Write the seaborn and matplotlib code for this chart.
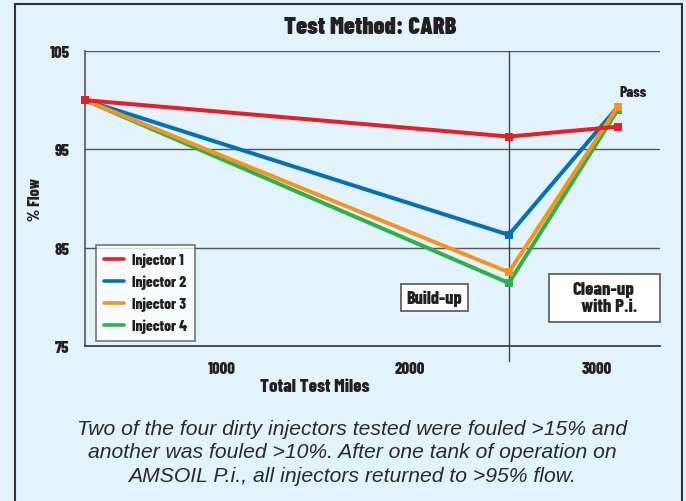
import pandas as pd
import matplotlib.pyplot as plt
import seaborn as sns
from matplotlib.patches import Rectangle

# data
miles = [270, 2530, 3110]
injector_1 = [100.0, 96.3, 97.3]
injector_2 = [100.0, 86.3, 99.3]
injector_3 = [100.0, 82.5, 99.3]
injector_4 = [100.0, 81.4, 99.0]
labels = ["Injector 1", "Injector 2", "Injector 3", "Injector 4"]
colors = ["#ED1C24", "#0072BC", "#F7941D", "#2BB24C"]
y_ticks = [75, 85, 95, 105]
x_ticks = [1000, 2000, 3000]
phase_split = 2530

BG = "#E2F3FB"
INK = "#231F20"
COND = ["Barlow Condensed", "DejaVu Sans"]
heavy = dict(family=COND, fontweight=800, color=INK)

sns.set_style("white")
plt.rcParams["font.family"] = COND

series = [injector_1, injector_2, injector_3, injector_4]
df = pd.concat(
    [pd.DataFrame({"miles": miles, "flow": s, "injector": lab}) for s, lab in zip(series, labels)],
    ignore_index=True,
)

fig = plt.figure(figsize=(6.86, 5.02), dpi=100)
fig.patch.set_facecolor(BG)
fig.patches.append(Rectangle((15 / 686, -0.01), 667 / 686, 1 - 5 / 502 + 0.01,
                             transform=fig.transFigure, fill=False,
                             edgecolor="#333333", linewidth=1.5))

ax = fig.add_axes([85 / 686, 1 - 347 / 502, 575 / 686, 295 / 502])
ax.set_facecolor(BG)

draw_order = ["Injector 4", "Injector 2", "Injector 3", "Injector 1"]
for lab in draw_order:
    sub = df[df["injector"] == lab]
    c = colors[labels.index(lab)]
    sns.lineplot(data=sub, x="miles", y="flow", ax=ax, color=c, linewidth=2.9,
                 marker="s", markersize=6, markeredgewidth=0, legend=False,
                 clip_on=False, zorder=3)

ax.set_xlim(270, 3336)
ax.set_ylim(75, 105)

for y in [85, 95, 105]:
    ax.axhline(y, color="#555555", linewidth=1.0, zorder=1)
ax.plot([phase_split, phase_split], [105, 73.5], color="#444444", linewidth=1.0,
        clip_on=False, zorder=1)

for s in ["top", "right"]:
    ax.spines[s].set_visible(False)
ax.spines["left"].set_color("#555555")
ax.spines["bottom"].set_color("#333333")
ax.spines["left"].set_linewidth(1.2)
ax.spines["bottom"].set_linewidth(1.2)

ax.set_yticks(y_ticks)
ax.set_yticklabels([str(t) for t in y_ticks], **heavy, fontsize=12)
ax.set_xticks(x_ticks)
ax.set_xticklabels([str(t) for t in x_ticks], **heavy, fontsize=12)
ax.tick_params(axis="y", length=0, pad=11)
ax.tick_params(axis="x", length=6, width=1, color="#333333", direction="out", pad=5)

ax.set_xlabel("Total Test Miles", **heavy, fontsize=13.5)
ax.xaxis.set_label_coords((315 - 85) / 575, -(379 - 347) / 295)
ax.set_ylabel("% Flow", **heavy, fontsize=11.5)
ax.yaxis.set_label_coords(-(85 - 43) / 575, (347 - 200) / 295)

handles = [plt.Line2D([], [], color=c, linewidth=2.6) for c in colors]
leg = ax.legend(handles, labels, loc="lower left", bbox_to_anchor=(11 / 575, 5 / 295),
                borderaxespad=0, frameon=True, fancybox=False, handlelength=1.3,
                handletextpad=0.55, labelspacing=0.5, borderpad=0.5,
                prop={"family": COND, "weight": 800, "size": 11})
leg.get_frame().set_edgecolor("#555555")
leg.get_frame().set_linewidth(1.2)
for t in leg.get_texts():
    t.set_color(INK)

ax.text(2133, 79.9, "Build-up", ha="center", va="center", fontsize=13,
        bbox=dict(boxstyle="square,pad=0.3", facecolor="white", edgecolor="#555555",
                  linewidth=1.2), **heavy)
ax.add_patch(Rectangle(((549 - 85) / 575, (347 - 323) / 295), 111 / 575, 48 / 295,
                       transform=ax.transAxes, facecolor="white", edgecolor="#555555",
                       linewidth=1.2, zorder=4, clip_on=False))
ax.text(3037, 79.9, "Clean-up\n   with P.i.", ha="center", va="center", fontsize=13.5,
        linespacing=1.05, zorder=5, **heavy)
ax.text(3192, 100.8, "Pass", ha="center", va="center", fontsize=11, **heavy)

fig.text(370 / 686, 1 - 28 / 502, "Test Method: CARB", ha="center", va="center",
         fontsize=17.5, family=COND, fontweight=900, color=INK)

caption = ("Two of the four dirty injectors tested were fouled >15% and\n"
           "another was fouled >10%. After one tank of operation on\n"
           "AMSOIL P.i., all injectors returned to >95% flow.")
fig.text(352 / 686, 1 - 453 / 502, caption, ha="center", va="center", fontsize=15.2,
         style="italic", linespacing=1.27, color="#2a2a2a",
         family=["Liberation Sans", "DejaVu Sans"])

fig.savefig("out.png", dpi=100, facecolor=BG)
